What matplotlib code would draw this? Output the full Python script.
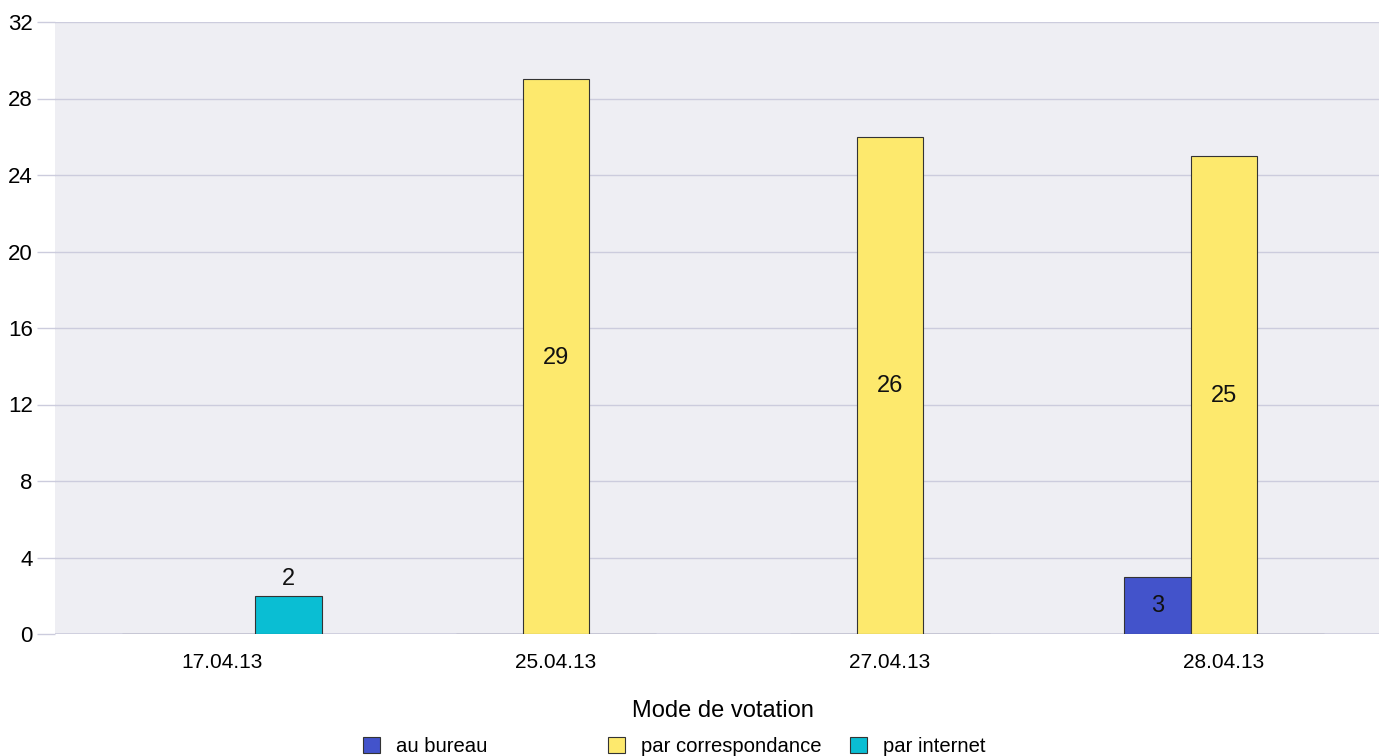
import matplotlib
matplotlib.use("Agg")
import matplotlib.pyplot as plt
import numpy as np

categories = ["17.04.13", "25.04.13", "27.04.13", "28.04.13"]
series_names = ["au bureau", "par correspondance", "par internet"]
au_bureau = [0, 0, 0, 3]
par_correspondance = [0, 29, 26, 25]
par_internet = [2, 0, 0, 0]
colors = ["#4353CB", "#FDE96D", "#0ABED3"]
yticks = [0, 4, 8, 12, 16, 20, 24, 28, 32]

plt.rcParams['font.family'] = ['Liberation Sans', 'DejaVu Sans']

W, H = 1379, 756
fig = plt.figure(figsize=(W / 100, H / 100), dpi=100)
ax = fig.add_axes([55 / W, 1 - 634 / H, 1336 / W, (634 - 22) / H])
ax.set_facecolor("#EEEEF3")
for s in ax.spines.values():
    s.set_visible(False)

x = np.arange(len(categories))
width = 0.2
data = [au_bureau, par_correspondance, par_internet]
handles = []
for i, (vals, col, name) in enumerate(zip(data, colors, series_names)):
    offs = (i - 1) * width
    bars = ax.bar(x + offs, vals, width, color=col, edgecolor="#333333",
                  linewidth=0.8, label=name, zorder=3)
    handles.append(bars)
    for xi, v in zip(x, vals):
        if v <= 0:
            continue
        if v >= 3:
            ax.text(xi + offs, v / 2 - 0.05, str(v), ha="center", va="center",
                    fontsize=17, color="#111111", zorder=4)
        else:
            ax.text(xi + offs, v + 0.3, str(v), ha="center", va="bottom",
                    fontsize=17, color="#111111", zorder=4)

ax.set_xlim(-0.5, len(categories) - 0.5)
ax.set_ylim(0, 32)
ax.set_yticks(yticks)
ax.set_yticklabels([str(t) for t in yticks], fontsize=16)
ax.set_xticks(x)
ax.set_xticklabels(categories, fontsize=15)
ax.tick_params(axis="y", length=13, color="#CCCCDD", width=1, pad=3)
ax.tick_params(axis="x", length=0, pad=14)
ax.grid(axis="y", color="#CCCCDD", linewidth=1, zorder=1)
ax.set_axisbelow(True)
ax.axhline(0, color="#CCCCDD", linewidth=1.2, zorder=2)
ax.set_xlabel("Mode de votation", fontsize=17, labelpad=20)

legend_x = [363, 608, 850]
fs_leg = 14.6
em = fs_leg * 100 / 72
for h, name, lx in zip(handles, series_names, legend_x):
    fig.legend([h], [name], loc="center left",
               bbox_to_anchor=(lx / W, 1 - 746.5 / H),
               frameon=False, fontsize=fs_leg, handlelength=17 / em,
               handleheight=16 / em, handletextpad=16 / em, borderpad=0,
               borderaxespad=0)

fig.savefig("out.png", dpi=100)
